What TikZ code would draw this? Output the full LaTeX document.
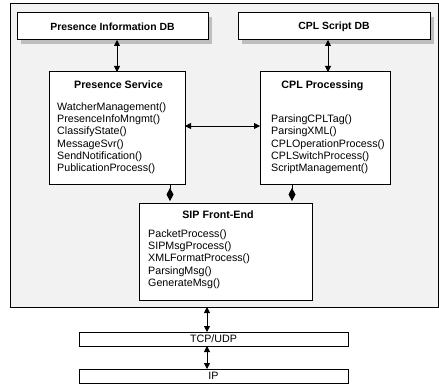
\documentclass[tikz,border=0pt]{standalone}
\usepackage{fontspec}
\setmainfont{Liberation Sans}
\usetikzlibrary{arrows.meta}
\definecolor{diagcolor0000}{RGB}{242,242,242}
\definecolor{diagcolor0001}{RGB}{190,190,190}
\definecolor{diagcolor0002}{RGB}{0,0,0}

\begin{document}
\begin{tikzpicture}[yscale=-1
                ,pstyle1/.style={color=diagcolor0002,fill=diagcolor0000,line width=1.0pt}
                ,pstyle2/.style={draw=diagcolor0002,fill=white,line width=1.0pt,inner sep=0pt,outer sep=0pt}
                ,pstyle3/.style={fill=diagcolor0001}
                ,pstyle4/.style={color=diagcolor0002,line width=0.8pt,{Triangle[length=6pt,width=6pt]}-{Triangle[length=6pt,width=6pt]}}
                ,pstyle5/.style={color=diagcolor0002,line width=0.8pt,-{Diamond[length=13pt,width=7pt]},shorten >=2pt}
                ,pstyle6/.style={font=\fontsize{10.7}{12.3}\selectfont\bfseries,inner sep=0pt,anchor=base}
                ,pstyle7/.style={font=\fontsize{10.7}{12.3}\selectfont,inner sep=0pt,anchor=north west,align=left}
            ]
            \useasboundingbox (0pt,0pt) rectangle (439pt,385pt);
            \draw[pstyle1] (10pt,4pt) rectangle (438.5pt,307pt);
            \fill[pstyle3] (21pt,17pt) rectangle (212pt,44pt);
            \fill[pstyle3] (242pt,17pt) rectangle (434pt,44pt);
            \node[pstyle2,minimum width=191pt,minimum height=27pt,font=\fontsize{10.4}{12}\selectfont\bfseries] (infodb) at (112.5pt,26.5pt) {Presence Information DB};
            \node[pstyle2,minimum width=192pt,minimum height=27pt,font=\fontsize{10.4}{12}\selectfont\bfseries] (scriptdb) at (334pt,26.5pt) {CPL Script DB};
            \node[pstyle2,minimum width=136pt,minimum height=112pt] (presence) at (117pt,128pt) {};
            \node[pstyle2,minimum width=130pt,minimum height=112pt] (cplproc) at (325pt,128pt) {};
            \node[pstyle2,minimum width=173pt,minimum height=97pt] (sipfe) at (225.5pt,251.5pt) {};
            \node[pstyle2,minimum width=269pt,minimum height=14pt,font=\fontsize{10.7}{12}\selectfont] (tcpudp) at (213.5pt,339pt) {TCP/UDP};
            \node[pstyle2,minimum width=269pt,minimum height=14pt,font=\fontsize{10.7}{12}\selectfont] (ip) at (213.5pt,376pt) {IP};
            \coordinate (outerbottom) at (207pt,307pt);
            \node[pstyle6] (presencetitle) at (118.5pt,89pt) {Presence Service};
            \node[pstyle7] (presenceops) at (57pt,102.2pt) {WatcherManagement()\\PresenceInfoMngmt()\\ClassifyState()\\MessageSvr()\\SendNotification()\\PublicationProcess()};
            \node[pstyle6] (cpltitle) at (322.5pt,89pt) {CPL Processing};
            \node[pstyle7] (cplops) at (271pt,114.5pt) {ParsingCPLTag()\\ParsingXML()\\CPLOperationProcess()\\CPLSwitchProcess()\\ScriptManagement()};
            \node[pstyle6] (siptitle) at (218pt,218pt) {SIP Front-End};
            \node[pstyle7] (sipops) at (148pt,229.2pt) {PacketProcess()\\SIPMsgProcess()\\XMLFormatProcess()\\ParsingMsg()\\GenerateMsg()};
            \draw[pstyle4] (presence.north |- infodb.south) -- (presence.north);
            \draw[pstyle4] (scriptdb.south -| 328pt,0pt) -- (cplproc.north -| 328pt,0pt);
            \draw[pstyle4] (presence.east |- 0pt,126pt) -- (cplproc.west |- 0pt,126pt);
            \draw[pstyle5] (presence.south -| 170pt,0pt) -- (sipfe.north -| 170pt,0pt);
            \draw[pstyle5] (cplproc.south -| 292pt,0pt) -- (sipfe.north -| 292pt,0pt);
            \draw[pstyle4] (outerbottom) -- (tcpudp.north -| outerbottom);
            \draw[pstyle4] (tcpudp.south -| outerbottom) -- (ip.north -| outerbottom);
        \end{tikzpicture}
\end{document}
